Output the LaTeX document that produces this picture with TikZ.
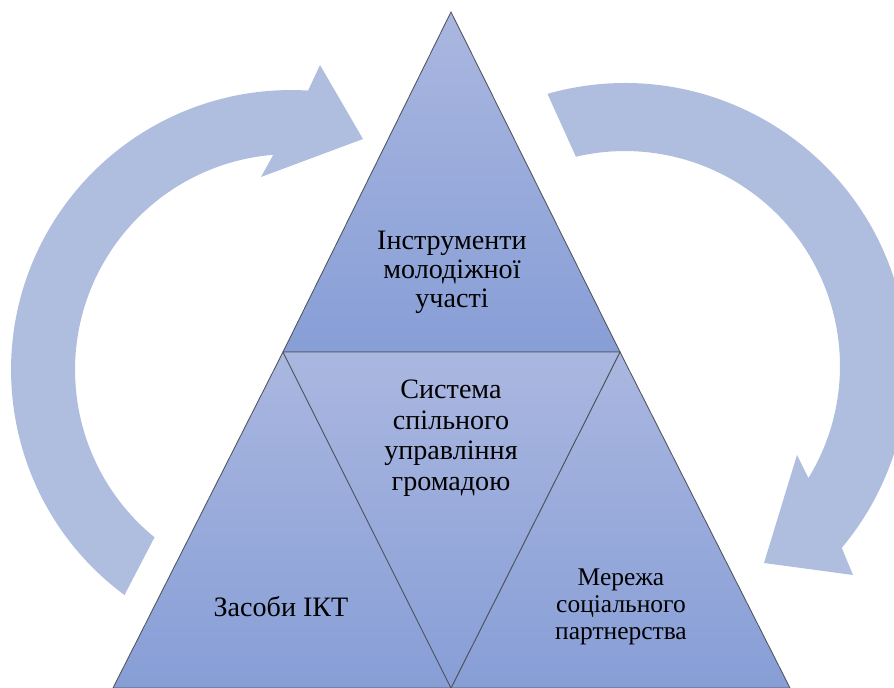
\documentclass[tikz,border=0pt]{standalone}
\usepackage{fontspec}
\setmainfont{Liberation Serif}
\usetikzlibrary{calc}
\definecolor{arrowc}{RGB}{175,189,223}
\definecolor{tritop}{RGB}{170,183,224}
\definecolor{tribot}{RGB}{135,158,214}
\definecolor{edgec}{RGB}{80,85,95}
\begin{document}
\begin{tikzpicture}[x=0.02cm,y=0.02cm,
  tri/.style={draw=edgec, line width=0.5pt, top color=tritop, bottom color=tribot},
  lbl/.style={align=center, text=black, font=\fontsize{16}{16.5}\selectfont, inner sep=0pt}]
\useasboundingbox (0,0) rectangle (894,-688);
% circular arrows
\coordinate (lc) at (291,-370);
\coordinate (rc) at (625,-366);
\fill[arrowc] ($(lc)+(233.5:5.6cm)$) arc[start angle=233.5, end angle=86.5, radius=5.6cm]
  -- (320,-65) -- (363,-139) -- (261,-177)
  -- ($(lc)+(94.7:4.32cm)$) arc[start angle=94.7, end angle=230.8, radius=4.32cm] -- cycle;
\fill[arrowc] ($(rc)+(105.9:5.66cm)$) arc[start angle=105.9, end angle=-40, radius=5.66cm]
  -- (853,-575) -- (764,-563) -- (797,-455)
  -- ($(rc)+(-31.4:4.3cm)$) arc[start angle=-31.4, end angle=103.2, radius=4.3cm] -- cycle;
% triangle vertices
\coordinate (A) at (451,-12);
\coordinate (L) at (283,-352);
\coordinate (R) at (620,-352);
\coordinate (BL) at (113,-688);
\coordinate (BM) at (451,-688);
\coordinate (BR) at (790,-688);
\path[tri] (A) -- (L) -- (R) -- cycle;
\path[tri] (L) -- (BL) -- (BM) -- cycle;
\path[tri] (R) -- (BM) -- (BR) -- cycle;
\path[tri] (L) -- (R) -- (BM) -- cycle;
% labels
\node[lbl] (t1) at (452,-272) {Інструменти\\молодіжної\\участі};
\node[lbl, font=\fontsize{16}{17.4}\selectfont] (t2) at (451,-438) {Система\\спільного\\управління\\громадою};
\node[lbl] (t3) at (281,-607) {Засоби ІКТ};
\node[lbl, font=\fontsize{14.5}{15.3}\selectfont] (t4) at (621,-607) {Мережа\\соціального\\партнерства};
\end{tikzpicture}
\end{document}
